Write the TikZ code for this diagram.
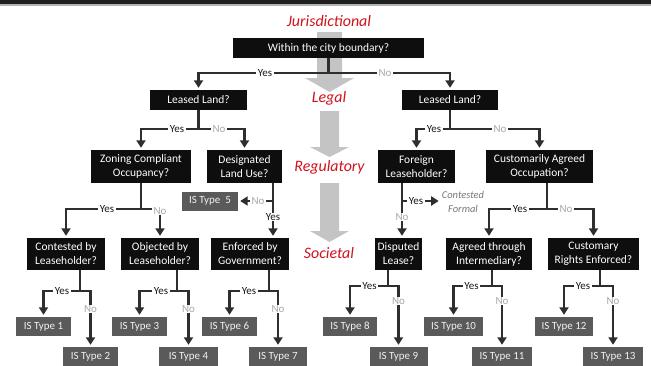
\documentclass[tikz,border=0pt]{standalone}
\usepackage{fontspec}
\setmainfont{Carlito}
\usetikzlibrary{arrows.meta}
\definecolor{boxblack}{HTML}{0E0E0E}
\definecolor{isgray}{HTML}{5A5A5A}
\definecolor{conncol}{HTML}{2E2E2E}
\definecolor{arrowgray}{HTML}{C4C4C4}
\definecolor{redlbl}{HTML}{D0121B}
\definecolor{nogray}{HTML}{A8A8A8}
\definecolor{notegray}{HTML}{777777}
\begin{document}
\begin{tikzpicture}[x=1bp,y=-1bp,
  qbox/.style={fill=boxblack, text=white, inner sep=0pt, align=center,
    font=\fontsize{11.5}{14}\selectfont},
  isbox/.style={fill=isgray, text=white!94!black, inner sep=0pt, minimum height=19bp,
    font=\fontsize{11}{13}\selectfont},
  stage/.style={text=redlbl, font=\fontsize{16}{18}\selectfont\itshape, inner sep=0pt},
  conn/.style={draw=conncol, line width=2.8bp},
  arr/.style={-{Triangle[width=9bp,length=7.5bp]}, shorten >=2bp},
  yesl/.style={fill=white, text=black!90, inner xsep=1.5bp, inner ysep=0.5bp,
    font=\fontsize{11}{13}\selectfont},
  nol/.style={yesl, text=nogray},
  note/.style={text=notegray, align=center, inner sep=1bp,
    font=\fontsize{10.5}{13.5}\selectfont\itshape}
]
\useasboundingbox (0,0) rectangle (651,365);
% top border
\fill[black!88] (0,0) rectangle (651,4.3);
\fill[black!30] (0,4.3) rectangle (651,5.6);

% grey stage arrows
\fill[arrowgray] (317,32) -- (342,32) -- (342,78) -- (354,78) -- (329.5,92) -- (305,78) -- (317,78) -- cycle;
\fill[arrowgray] (320,111) -- (339,111) -- (339,147) -- (349,147) -- (329.5,157) -- (310,147) -- (320,147) -- cycle;
\fill[arrowgray] (320,183) -- (339,183) -- (339,231) -- (349,231) -- (329.5,242) -- (310,231) -- (320,231) -- cycle;

% stage labels
\node[stage] (sJ) at (329,21) {Jurisdictional};
\node[stage] (sL) at (329,98) {Legal};
\node[stage] (sR) at (329.5,167) {Regulatory};
\node[stage] (sS) at (329,253) {Societal};

% question boxes
\node[qbox, minimum width=191bp, minimum height=20bp] (q0) at (328.5,48) {Within the city boundary?};
\node[qbox, minimum width=97bp, minimum height=20bp] (lL) at (198.5,100) {Leased Land?};
\node[qbox, minimum width=96bp, minimum height=20bp] (lR) at (450,100) {Leased Land?};
\node[qbox, minimum width=100bp, minimum height=33bp] (zc) at (141,166.5) {Zoning Compliant\\Occupancy?};
\node[qbox, minimum width=75bp, minimum height=33bp] (dl) at (244.5,166.5) {Designated\\Land Use?};
\node[qbox, minimum width=77bp, minimum height=33bp] (fl) at (416.5,166.5) {Foreign\\Leaseholder?};
\node[qbox, minimum width=107bp, minimum height=33bp] (ca) at (539.5,166.5) {Customarily Agreed\\Occupation?};
\node[qbox, minimum width=78bp, minimum height=32bp] (cl) at (66,254) {Contested by\\Leaseholder?};
\node[qbox, minimum width=78bp, minimum height=32bp] (ob) at (160,254) {Objected by\\Leaseholder?};
\node[qbox, minimum width=78bp, minimum height=32bp] (eg) at (250,254) {Enforced by\\Government?};
\node[qbox, minimum width=47bp, minimum height=32bp] (dp) at (398.5,254) {Disputed\\Lease?};
\node[qbox, minimum width=86bp, minimum height=32bp] (ag) at (489,254) {Agreed through\\Intermediary?};
\node[qbox, minimum width=91bp, minimum height=32bp] (cr) at (593.5,254) {Customary\\Rights Enforced?};

% outcome boxes
\node[isbox, minimum width=56bp] (t5) at (210,201) {IS Type\ \ 5};
\node[isbox, minimum width=55bp] (t1) at (43.5,326.5) {IS Type 1};
\node[isbox, minimum width=55bp] (t2) at (90.5,356.5) {IS Type 2};
\node[isbox, minimum width=55bp] (t3) at (139.5,326.5) {IS Type 3};
\node[isbox, minimum width=59bp] (t4) at (188.5,356.5) {IS Type 4};
\node[isbox, minimum width=55bp] (t6) at (229.5,326.5) {IS Type 6};
\node[isbox, minimum width=58bp] (t7) at (278,356.5) {IS Type 7};
\node[isbox, minimum width=54bp] (t8) at (350,326.5) {IS Type 8};
\node[isbox, minimum width=58bp] (t9) at (398.5,356.5) {IS Type 9};
\node[isbox, minimum width=59bp] (t10) at (453.5,326.5) {IS Type 10};
\node[isbox, minimum width=60bp] (t11) at (502,356.5) {IS Type 11};
\node[isbox, minimum width=58bp] (t12) at (564,326.5) {IS Type 12};
\node[isbox, minimum width=60bp] (t13) at (613,356.5) {IS Type 13};

\node[note] (cf) at (463,202) {Contested\\Formal};

% junctions
\coordinate (jA) at (328.5,73);
\coordinate (jB) at (198.5,129);
\coordinate (jC) at (450,129);
\coordinate (jD) at (141,209);
\coordinate (jE) at (273,201);
\coordinate (jF) at (402,201);
\coordinate (jG) at (547,209);
\coordinate (j1) at (80,291);
\coordinate (j2) at (177,291);
\coordinate (j3) at (269,291);
\coordinate (j4) at (388,286);
\coordinate (j5) at (492,286);
\coordinate (j6) at (600,286);

% connectors
\draw[conn] (q0.south -| jA) -- (jA);
\draw[conn,arr] (jA) -- (jA -| lL) -- (lL.north);
\draw[conn,arr] (jA) -- (jA -| lR) -- (lR.north);

\draw[conn] (lL.south) -- (jB);
\draw[conn,arr] (jB) -- (jB -| zc) -- (zc.north);
\draw[conn,arr] (jB) -- (jB -| dl) -- (dl.north);

\draw[conn] (lR.south) -- (jC);
\draw[conn,arr] (jC) -- (jC -| fl) -- (fl.north);
\draw[conn,arr] (jC) -- (jC -| ca) -- (ca.north);

\draw[conn] (zc.south -| jD) -- (jD);
\draw[conn,arr] (jD) -- (jD -| cl) -- (cl.north);
\draw[conn,arr] (jD) -- (jD -| ob) -- (ob.north);

\draw[conn,arr] (dl.south -| jE) -- (eg.north -| jE);
\draw[conn,arr] (jE) -- (t5.east);

\draw[conn,arr] (fl.south -| jF) -- (dp.north -| jF);
\draw[conn,arr] (jF) -- (cf.west |- jF);

\draw[conn] (ca.south -| jG) -- (jG);
\draw[conn,arr] (jG) -- (jG -| ag) -- (ag.north);
\draw[conn,arr] (jG) -- (jG -| cr) -- (cr.north);

\draw[conn] (cl.south -| j1) -- (j1);
\draw[conn,arr] (j1) -- (j1 -| t1) -- (t1.north);
\draw[conn,arr] (j1) -- (j1 -| t2) -- (t2.north);
\draw[conn] (ob.south -| j2) -- (j2);
\draw[conn,arr] (j2) -- (j2 -| t3) -- (t3.north);
\draw[conn,arr] (j2) -- (j2 -| t4) -- (t4.north);
\draw[conn] (eg.south -| j3) -- (j3);
\draw[conn,arr] (j3) -- (j3 -| t6) -- (t6.north);
\draw[conn,arr] (j3) -- (j3 -| t7) -- (t7.north);
\draw[conn] (dp.south -| j4) -- (j4);
\draw[conn,arr] (j4) -- (j4 -| t8) -- (t8.north);
\draw[conn,arr] (j4) -- (j4 -| t9) -- (t9.north);
\draw[conn] (ag.south -| j5) -- (j5);
\draw[conn,arr] (j5) -- (j5 -| t10) -- (t10.north);
\draw[conn,arr] (j5) -- (j5 -| t11) -- (t11.north);
\draw[conn] (cr.south -| j6) -- (j6);
\draw[conn,arr] (j6) -- (j6 -| t12) -- (t12.north);
\draw[conn,arr] (j6) -- (j6 -| t13) -- (t13.north);

% yes / no labels
\node[yesl] (yA) at (265,73) {Yes};
\node[nol] (nA) at (385,73) {No};
\node[yesl] (yB) at (177,129) {Yes};
\node[nol] (nB) at (219,129) {No};
\node[yesl] (yC) at (434,129) {Yes};
\node[nol] (nC) at (500,129) {No};
\node[yesl] (yD) at (107,209) {Yes};
\node[nol] (nD) at (160,211) {No};
\node[nol] (nE) at (258,201) {No};
\node[yesl] (yE) at (273,217) {Yes};
\node[yesl] (yF) at (416,201) {Yes};
\node[nol] (nF) at (402,217) {No};
\node[yesl] (yG) at (520,209) {Yes};
\node[nol] (nG) at (566,209) {No};
\node[yesl] (y1) at (62,291) {Yes};
\node[nol] (n1) at (90.5,309) {No};
\node[yesl] (y2) at (161,291) {Yes};
\node[nol] (n2) at (188.5,309) {No};
\node[yesl] (y3) at (249,291) {Yes};
\node[nol] (n3) at (278,309) {No};
\node[yesl] (y4) at (369.5,286) {Yes};
\node[nol] (n4) at (398.5,301) {No};
\node[yesl] (y5) at (471.5,286) {Yes};
\node[nol] (n5) at (502,301) {No};
\node[yesl] (y6) at (583,286) {Yes};
\node[nol] (n6) at (613,301) {No};
\end{tikzpicture}
\end{document}
